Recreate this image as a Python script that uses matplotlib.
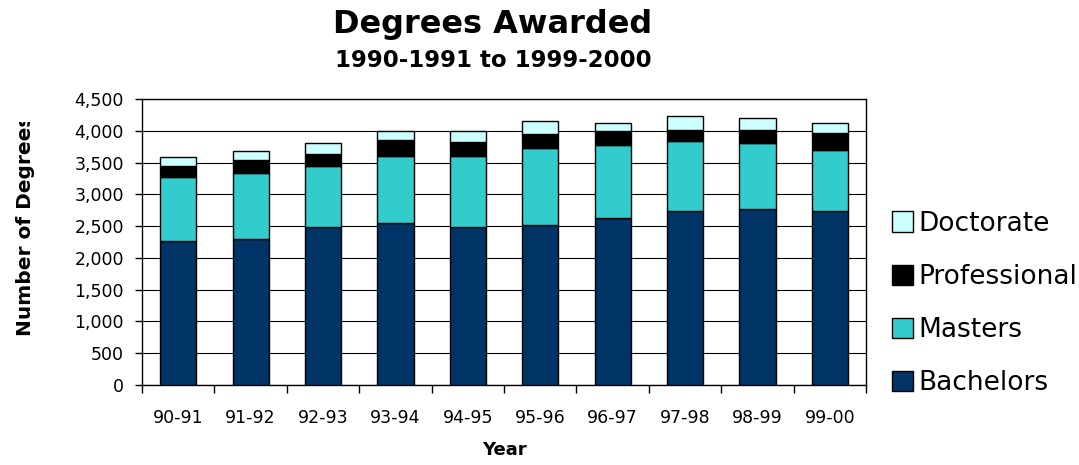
import matplotlib
matplotlib.use('Agg')
import matplotlib.pyplot as plt
import numpy as np
from matplotlib.ticker import FuncFormatter, MultipleLocator
from matplotlib.transforms import Bbox

years = ['90-91', '91-92', '92-93', '93-94', '94-95', '95-96', '96-97', '97-98', '98-99', '99-00']
bachelors = [2270, 2300, 2490, 2550, 2490, 2520, 2620, 2745, 2775, 2745]
masters = [1000, 1030, 960, 1060, 1120, 1215, 1150, 1090, 1030, 960]
professional = [180, 210, 185, 245, 220, 220, 220, 180, 210, 255]
doctorate = [145, 140, 180, 135, 165, 205, 140, 215, 180, 170]

series = [('Bachelors', bachelors, '#003366'),
          ('Masters', masters, '#33CCCC'),
          ('Professional', professional, '#000000'),
          ('Doctorate', doctorate, '#CCFFFF')]

plt.rcParams['font.family'] = 'DejaVu Sans'

fig = plt.figure(figsize=(10.79, 4.65), dpi=100)
ax = fig.add_axes([142 / 1079, 1 - 385 / 465, (866 - 142) / 1079, (385 - 99) / 465])

x = np.arange(len(years))
bottom = np.zeros(len(years))
handles = []
for name, vals, col in series:
    b = ax.bar(x, vals, width=0.5, bottom=bottom, color=col, edgecolor='black',
               linewidth=1.0, label=name, zorder=3)
    handles.append(b)
    bottom = bottom + np.array(vals)

ax.set_xlim(-0.5, len(years) - 0.5)
ax.set_ylim(0, 4500)
ax.yaxis.set_major_locator(MultipleLocator(500))
ax.yaxis.set_major_formatter(FuncFormatter(lambda v, p: '{:,.0f}'.format(v)))
ax.grid(axis='y', color='black', linewidth=0.8, zorder=0)
ax.set_axisbelow(True)

ax.set_xticks(x)
ax.set_xticklabels(years)
ax.set_xticks(np.arange(len(years) + 1) - 0.5, minor=True)
ax.tick_params(axis='x', which='major', length=0, pad=17, labelsize=12.5)
ax.tick_params(axis='x', which='minor', length=6, width=1.0, direction='out')
ax.tick_params(axis='y', length=5, width=1.0, direction='out', pad=8, labelsize=12.5)

for s in ax.spines.values():
    s.set_linewidth(1.0)
    s.set_color('black')

ax.set_xlabel('Year', fontsize=13, fontweight='bold', labelpad=10)

# y label, cut off at the top like the original
yl = fig.text(26 / 1079, 1 - 225.5 / 465, 'Number of Degrees', rotation=90, ha='center', va='center',
              fontsize=14.5, fontweight='bold')
yl.set_clip_box(Bbox([[0, 0], [200, 465 - 122]]))
yl.set_clip_on(True)

fig.text(493 / 1079, 1 - 33 / 465, 'Degrees Awarded', ha='center', va='baseline',
         fontsize=23, fontweight='bold')
fig.text(493 / 1079, 1 - 67 / 465, '1990-1991 to 1999-2000', ha='center', va='baseline',
         fontsize=16.5, fontweight='bold')

leg = fig.legend(handles[::-1], [s[0] for s in series][::-1], loc='center left',
                 bbox_to_anchor=(892 / 1079, 1 - 303.5 / 465), frameon=False, fontsize=19,
                 handlelength=0.8, handleheight=0.8, handletextpad=0.2, labelspacing=1.03,
                 borderpad=0, borderaxespad=0)

fig.savefig('out.png', dpi=100)
